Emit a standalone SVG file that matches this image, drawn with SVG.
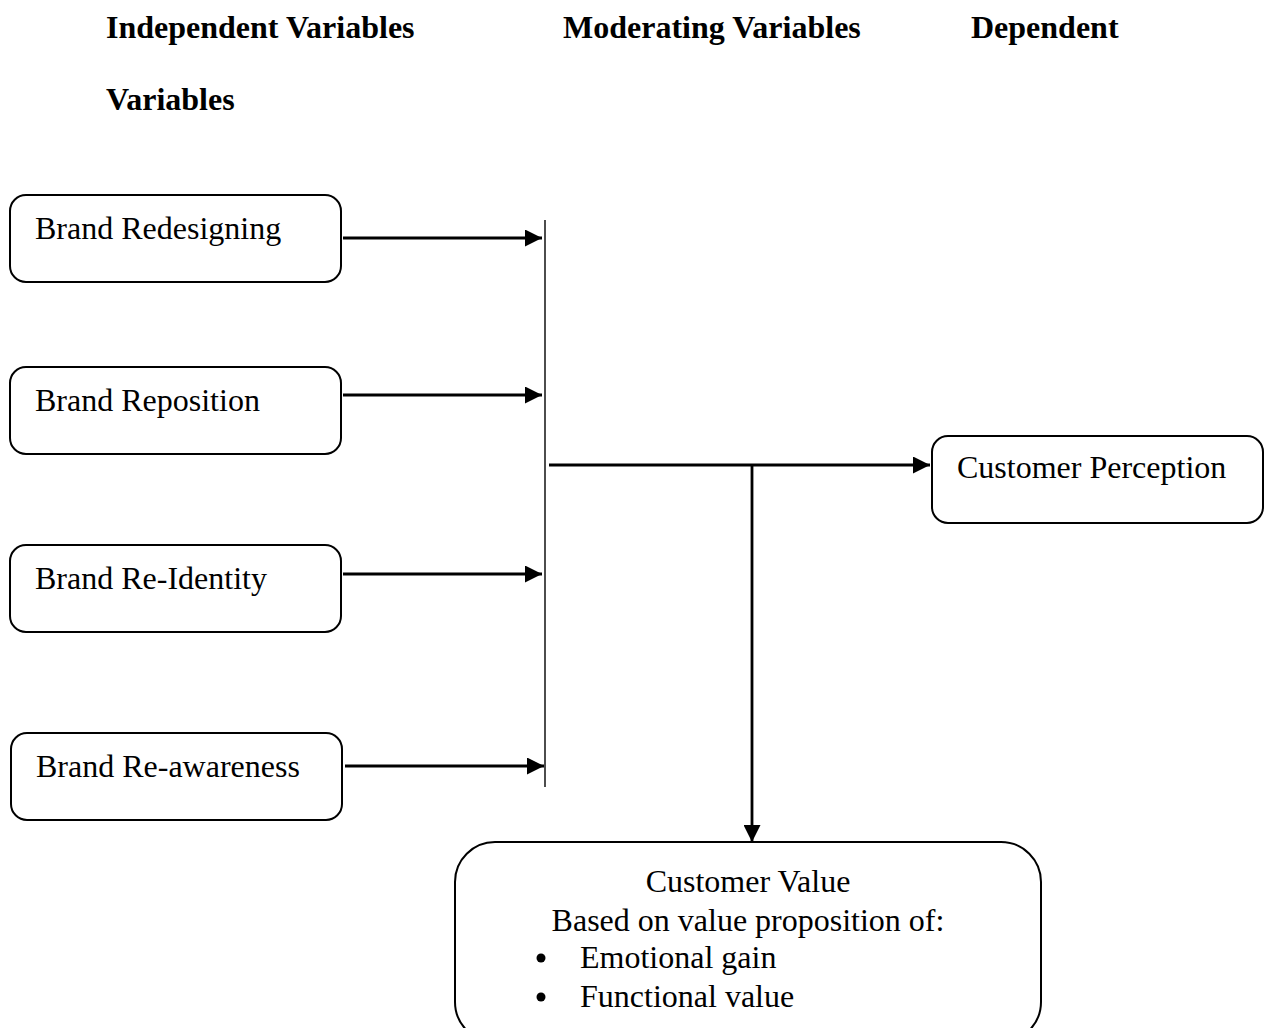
<svg xmlns="http://www.w3.org/2000/svg" width="1271" height="1028" viewBox="0 0 1271 1028">
<style>
text{font-family:"Liberation Serif","Times New Roman",serif;font-size:32px;fill:#000}
.h{font-weight:bold}
.box{fill:#fff;stroke:#000;stroke-width:2}
.c{fill:none;stroke:#000;stroke-width:2.8}
.thin{fill:none;stroke:#000;stroke-width:1.4}
</style>
<defs>
<marker id="ah" markerWidth="17" markerHeight="17" refX="17" refY="8.5" orient="auto" markerUnits="userSpaceOnUse">
<path d="M0,0 L17,8.5 L0,17 Z" fill="#000"/>
</marker>
</defs>
<g id="headers">
<text class="h" x="106" y="38">Independent Variables</text>
<text class="h" x="563" y="38">Moderating Variables</text>
<text class="h" x="971" y="38">Dependent</text>
<text class="h" x="106" y="110">Variables</text>
</g>
<g id="n1"><rect class="box" x="10" y="195" width="331" height="87" rx="16"/><text x="35" y="239">Brand Redesigning</text></g>
<g id="n2"><rect class="box" x="10" y="367" width="331" height="87" rx="16"/><text x="35" y="411">Brand Reposition</text></g>
<g id="n3"><rect class="box" x="10" y="545" width="331" height="87" rx="16"/><text x="35" y="589">Brand Re-Identity</text></g>
<g id="n4"><rect class="box" x="11" y="733" width="331" height="87" rx="16"/><text x="36" y="777">Brand Re-awareness</text></g>
<g id="n5"><rect class="box" x="932" y="436" width="331" height="87" rx="16"/><text x="957" y="478">Customer Perception</text></g>
<g id="n6"><rect class="box" x="455" y="842" width="586" height="200" rx="40"/>
<text x="748" y="892" text-anchor="middle">Customer Value</text>
<text x="748" y="931" text-anchor="middle">Based on value proposition of:</text>
<circle cx="541" cy="958" r="4.5"/>
<text x="580" y="968">Emotional gain</text>
<circle cx="541" cy="997" r="4.5"/>
<text x="580" y="1007">Functional value</text>
</g>
<g id="connectors">
<line class="thin" x1="545" y1="220" x2="545" y2="787"/>
<line class="c" x1="343" y1="238" x2="542" y2="238" marker-end="url(#ah)"/>
<line class="c" x1="343" y1="395" x2="542" y2="395" marker-end="url(#ah)"/>
<line class="c" x1="343" y1="574" x2="542" y2="574" marker-end="url(#ah)"/>
<line class="c" x1="345" y1="766" x2="544" y2="766" marker-end="url(#ah)"/>
<line class="c" x1="549" y1="465" x2="930" y2="465" marker-end="url(#ah)"/>
<line class="c" x1="752" y1="465" x2="752" y2="842" marker-end="url(#ah)"/>
</g>
</svg>
